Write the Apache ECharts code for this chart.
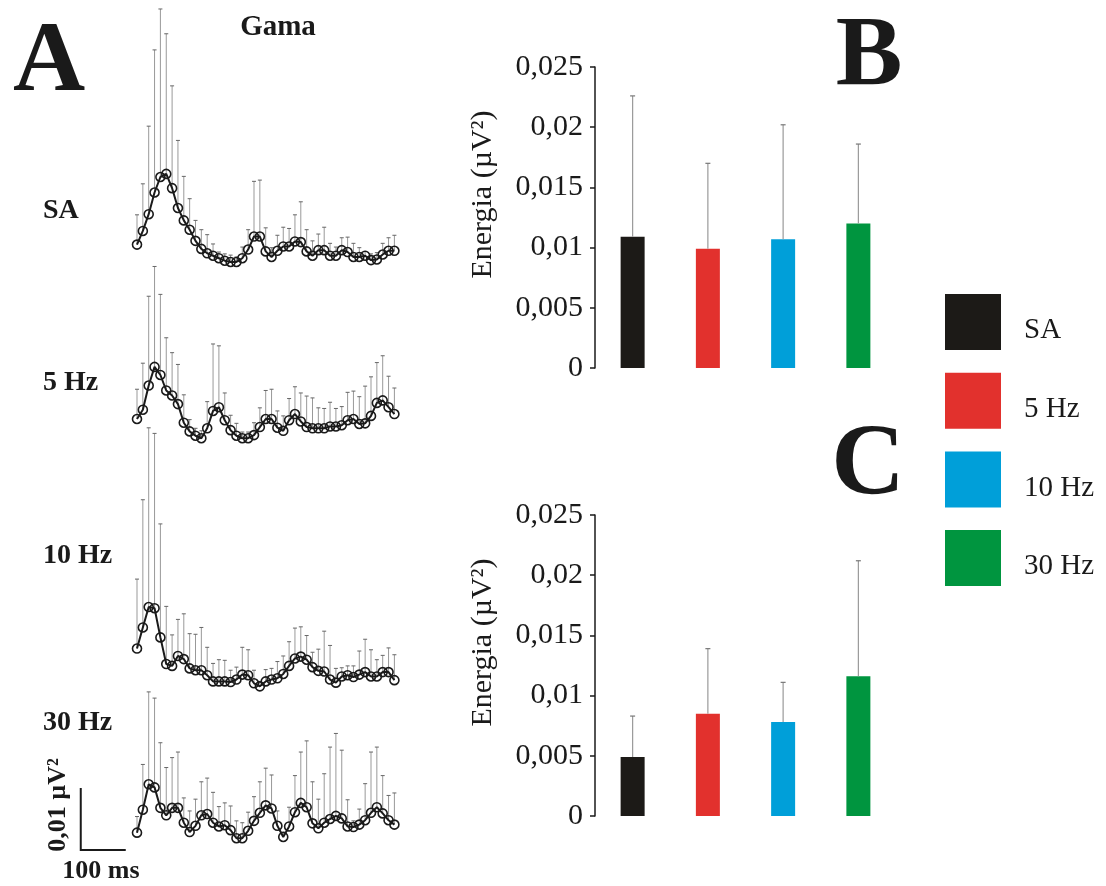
<!DOCTYPE html>
<html><head><meta charset="utf-8">
<script src="https://cdn.jsdelivr.net/npm/echarts@6/dist/echarts.min.js"></script>
<style>html,body{margin:0;padding:0;background:#fff}#c{width:1106px;height:886px}</style>
</head><body><div id="c"></div>
<script>
// ---------- data ----------
const groups = ['SA', '5 Hz', '10 Hz', '30 Hz'];
const groupColors = ['#1c1a17', '#e2312d', '#009fd9', '#00953f'];

// time of each sample (ms)
const times = [0,13,26,39,52,65,78,91,104,117,130,143,156,169,182,195,208,221,234,247,260,273,286,299,312,325,338,351,364,377,390,403,416,429,442,455,468,481,494,507,520,533,546,559,572];

// Gamma energy traces (µV²): mean and upper SD
const saMean = [0.0041,0.0063,0.0090,0.0125,0.0150,0.0155,0.0132,0.0100,0.0080,0.0065,0.0047,0.0034,0.0027,0.0023,0.0019,0.0015,0.0013,0.0013,0.0019,0.0033,0.0054,0.0054,0.0030,0.0021,0.0031,0.0038,0.0038,0.0046,0.0045,0.0030,0.0023,0.0032,0.0032,0.0023,0.0023,0.0032,0.0029,0.0021,0.0021,0.0023,0.0016,0.0017,0.0025,0.0031,0.0031];
const saSd = [0.0048,0.0076,0.0142,0.0230,0.0271,0.0226,0.0165,0.0109,0.0071,0.0050,0.0033,0.0031,0.0030,0.0019,0.0010,0.0011,0.0011,0.0008,0.0018,0.0032,0.0089,0.0091,0.0038,0.0015,0.0025,0.0031,0.0029,0.0043,0.0065,0.0035,0.0024,0.0026,0.0037,0.0020,0.0014,0.0020,0.0024,0.0022,0.0015,0.0007,0.0010,0.0011,0.0018,0.0021,0.0025];

const hz5Mean = [0.0050,0.0065,0.0104,0.0134,0.0121,0.0096,0.0088,0.0074,0.0044,0.0030,0.0023,0.0019,0.0035,0.0063,0.0069,0.0048,0.0032,0.0023,0.0019,0.0019,0.0024,0.0037,0.0050,0.0050,0.0036,0.0031,0.0048,0.0058,0.0046,0.0037,0.0035,0.0035,0.0035,0.0038,0.0038,0.0040,0.0048,0.0050,0.0042,0.0043,0.0055,0.0076,0.0080,0.0069,0.0058];
const hz5Sd = [0.0048,0.0075,0.0144,0.0162,0.0130,0.0085,0.0069,0.0064,0.0045,0.0019,0.0012,0.0012,0.0043,0.0108,0.0099,0.0044,0.0024,0.0020,0.0010,0.0010,0.0020,0.0031,0.0046,0.0048,0.0027,0.0024,0.0035,0.0044,0.0046,0.0050,0.0049,0.0033,0.0032,0.0039,0.0029,0.0030,0.0045,0.0045,0.0044,0.0060,0.0063,0.0065,0.0072,0.0050,0.0042];

const hz10Mean = [0.0083,0.0117,0.0150,0.0148,0.0101,0.0058,0.0055,0.0071,0.0066,0.0051,0.0048,0.0048,0.0040,0.0030,0.0030,0.0030,0.0029,0.0033,0.0041,0.0040,0.0027,0.0022,0.0030,0.0033,0.0035,0.0042,0.0055,0.0067,0.0070,0.0065,0.0053,0.0047,0.0046,0.0033,0.0028,0.0038,0.0040,0.0037,0.0041,0.0045,0.0038,0.0038,0.0045,0.0045,0.0032];
const hz10Sd = [0.0112,0.0206,0.0289,0.0282,0.0183,0.0093,0.0050,0.0059,0.0073,0.0056,0.0058,0.0069,0.0045,0.0029,0.0035,0.0034,0.0019,0.0020,0.0044,0.0041,0.0021,0.0008,0.0019,0.0018,0.0027,0.0029,0.0039,0.0049,0.0048,0.0039,0.0024,0.0035,0.0065,0.0055,0.0023,0.0014,0.0015,0.0018,0.0038,0.0053,0.0043,0.0027,0.0027,0.0039,0.0041];

const hz30Mean = [0.0028,0.0065,0.0106,0.0101,0.0068,0.0056,0.0068,0.0068,0.0044,0.0029,0.0039,0.0056,0.0058,0.0044,0.0038,0.0040,0.0032,0.0019,0.0019,0.0031,0.0047,0.0060,0.0072,0.0067,0.0039,0.0021,0.0038,0.0061,0.0076,0.0069,0.0043,0.0035,0.0044,0.0050,0.0055,0.0051,0.0038,0.0037,0.0041,0.0048,0.0060,0.0069,0.0059,0.0048,0.0041];
const hz30Sd = [0.0026,0.0073,0.0149,0.0144,0.0105,0.0077,0.0081,0.0090,0.0040,0.0034,0.0043,0.0054,0.0058,0.0049,0.0032,0.0036,0.0039,0.0028,0.0025,0.0030,0.0039,0.0050,0.0060,0.0054,0.0024,0.0008,0.0031,0.0059,0.0082,0.0107,0.0067,0.0047,0.0079,0.0116,0.0133,0.0110,0.0043,0.0010,0.0025,0.0059,0.0098,0.0097,0.0061,0.0040,0.0051];

// Panel B and C: mean energy and SD
const bMeans = [0.0109, 0.0099, 0.0107, 0.0120];
const bSd    = [0.0117, 0.0071, 0.0095, 0.0066];
const cMeans = [0.0049, 0.0085, 0.0078, 0.0116];
const cSd    = [0.0034, 0.0054, 0.0033, 0.0096];

const energyTicks = { min: 0, max: 0.025, step: 0.005 };
const scaleBar = { startTime: -125, time: 100, energy: 0.01 };

// ---------- layout ----------
const SERIF = 'Liberation Serif';
const INK = '#1a1a1a';
const traces = [
  { label: 'SA',    mean: saMean,   sd: saSd,   top: 22,  labelY: 211 },
  { label: '5 Hz',  mean: hz5Mean,  sd: hz5Sd,  top: 202, labelY: 383 },
  { label: '10 Hz', mean: hz10Mean, sd: hz10Sd, top: 452, labelY: 556 },
  { label: '30 Hz', mean: hz30Mean, sd: hz30Sd, top: 602, labelY: 723 }
];

const grids = [], xAxes = [], yAxes = [], series = [];

function traceErr(params, api) {
  const x = api.value(0), m = api.value(1), s = api.value(2);
  const p0 = api.coord([x, m]), p1 = api.coord([x, m + s]);
  return { type: 'group', children: [
    { type: 'line', shape: { x1: p0[0], y1: p0[1], x2: p1[0], y2: p1[1] }, style: { stroke: '#999999', lineWidth: 1 } },
    { type: 'line', shape: { x1: p1[0] - 2, y1: p1[1], x2: p1[0] + 2, y2: p1[1] }, style: { stroke: '#666666', lineWidth: 1 } }
  ]};
}

traces.forEach((t, k) => {
  grids.push({ left: 78.5, top: t.top, width: 319.5, height: 248 });
  xAxes.push({ gridIndex: k, type: 'value', min: -130, max: 580, show: false });
  yAxes.push({ gridIndex: k, type: 'value', min: 0, max: 0.04, show: false });
  series.push({
    type: 'custom', xAxisIndex: k, yAxisIndex: k, z: 1, clip: false,
    data: times.map((tm, i) => [tm, t.mean[i], t.sd[i]]),
    renderItem: traceErr, silent: true
  });
  series.push({
    type: 'line', xAxisIndex: k, yAxisIndex: k, z: 3,
    data: times.map((tm, i) => [tm, t.mean[i]]),
    symbol: 'circle', symbolSize: 9, showSymbol: true, clip: false,
    lineStyle: { color: INK, width: 2 },
    itemStyle: { color: 'rgba(255,255,255,0)', borderColor: INK, borderWidth: 1.6 },
    silent: true
  });
});

// scale bar in the 30 Hz panel
series.push({
  type: 'custom', xAxisIndex: 3, yAxisIndex: 3, z: 5, silent: true,
  data: [[scaleBar.startTime, scaleBar.startTime + scaleBar.time, 0, scaleBar.energy]],
  renderItem: (params, api) => {
    const a = api.coord([api.value(0), api.value(3)]);
    const o = api.coord([api.value(0), api.value(2)]);
    const b = api.coord([api.value(1), api.value(2)]);
    return { type: 'polyline', shape: { points: [a, o, b] }, style: { stroke: INK, lineWidth: 2, fill: null } };
  }
});

// bar panels
const barPanels = [
  { means: bMeans, sd: bSd, top: 67 },
  { means: cMeans, sd: cSd, top: 515 }
];
function barErr(params, api) {
  const x = api.value(0), m = api.value(1), s = api.value(2);
  const p0 = api.coord([x, m]), p1 = api.coord([x, m + s]);
  return { type: 'group', children: [
    { type: 'line', shape: { x1: p0[0], y1: p0[1], x2: p1[0], y2: p1[1] }, style: { stroke: '#9a9a9a', lineWidth: 1.2 } },
    { type: 'line', shape: { x1: p1[0] - 2.5, y1: p1[1], x2: p1[0] + 2.5, y2: p1[1] }, style: { stroke: '#777', lineWidth: 1.2 } }
  ]};
}
barPanels.forEach((p, j) => {
  const gi = 4 + j;
  grids.push({ left: 595, top: p.top, width: 301, height: 301 });
  xAxes.push({ gridIndex: gi, type: 'category', data: groups, show: false });
  yAxes.push({
    gridIndex: gi, type: 'value', min: energyTicks.min, max: energyTicks.max, interval: energyTicks.step,
    axisLine: { show: true, lineStyle: { color: INK, width: 1.5 } },
    axisTick: { show: true, length: 5, lineStyle: { color: INK, width: 1.5 } },
    splitLine: { show: false },
    axisLabel: { fontFamily: SERIF, fontSize: 30, color: INK, margin: 12,
      formatter: v => v === 0 ? '0' : String(+v.toFixed(3)).replace('.', ',') },
    name: 'Energia (µV²)', nameLocation: 'middle', nameGap: 97,
    nameTextStyle: { fontFamily: SERIF, fontSize: 30, color: INK, padding: [0, 0, 0, 46] }
  });
  groups.forEach((g, k) => {
    series.push({
      name: g, type: 'bar', xAxisIndex: gi, yAxisIndex: gi, barWidth: 24, barGap: '-100%',
      data: groups.map((_, i) => i === k ? p.means[k] : '-'),
      itemStyle: { color: groupColors[k] }, silent: true
    });
  });
  series.push({
    type: 'custom', xAxisIndex: gi, yAxisIndex: gi, z: 4, silent: true,
    data: groups.map((_, i) => [i, p.means[i], p.sd[i]]),
    renderItem: barErr
  });
});

function txt(text, x, y, size, opts) {
  const o = Object.assign({ bold: true, align: 'left', rot: 0 }, opts || {});
  return {
    type: 'text', x: x, y: y, rotation: o.rot, silent: true,
    style: { text: text, x: 0, y: 0, fill: INK, fontFamily: SERIF, fontSize: size,
      fontWeight: o.bold ? 'bold' : 'normal',
      align: o.align, verticalAlign: 'middle', textAlign: o.align, textVerticalAlign: 'middle' }
  };
}

const graphics = [
  txt('A', 49, 64, 100, { align: 'center' }),
  txt('B', 869, 58, 100, { align: 'center' }),
  txt('C', 868, 468, 102, { align: 'center' }),
  txt('Gama', 278, 28, 29, { align: 'center' }),
  txt('0,01 µV²', 58, 805, 26, { align: 'center', rot: Math.PI / 2 }),
  txt('100 ms', 101, 871, 26, { align: 'center' })
];
traces.forEach(t => graphics.push(txt(t.label, 43, t.labelY, 28)));

const chart = echarts.init(document.getElementById('c'));
chart.setOption({
  animation: false,
  backgroundColor: '#fff',
  grid: grids, xAxis: xAxes, yAxis: yAxes, series: series,
  legend: {
    data: groups, orient: 'vertical', left: 945, top: 294, padding: 0,
    itemWidth: 56, itemHeight: 56, itemGap: 22.7, icon: 'rect', selectedMode: false,
    formatter: name => '{s| }{n|' + name + '}',
    textStyle: {
      fontFamily: SERIF, fontSize: 29, color: INK,
      rich: {
        s: { fontSize: 1, lineHeight: 46, width: 18 },
        n: { fontFamily: SERIF, fontSize: 29, color: INK, lineHeight: 30, verticalAlign: 'bottom' }
      }
    }
  },
  graphic: graphics
});
</script>
</body></html>
